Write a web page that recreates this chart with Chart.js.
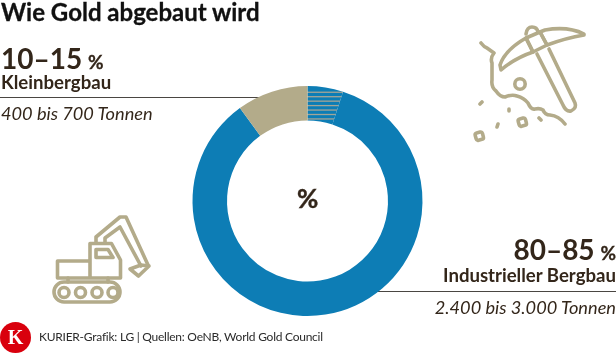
<!DOCTYPE html>
<html lang="de">
<head>
<meta charset="utf-8">
<title>Wie Gold abgebaut wird</title>
<script src="https://cdn.jsdelivr.net/npm/chart.js@4"></script>
<style>
html, body { margin: 0; padding: 0; background: #fff; }
#wrap { position: relative; width: 616px; height: 353px; overflow: hidden; font-family: Lato, sans-serif; color: #33261a; }
#wrap canvas { position: absolute; left: 0; top: 0; }
.t { position: absolute; white-space: nowrap; line-height: 30px; height: 30px; }
.r { right: 0; text-align: right; }
.b { font-weight: 700; }
.i { font-style: italic; font-weight: 400; }
.pct { font-size: 19px; margin-left: -1px; -webkit-text-stroke: 0.3px #33261a; }
.rule { position: absolute; height: 1px; background: #4a4642; }
svg { position: absolute; left: 0; top: 0; }
svg .ic { fill: none; stroke: #b3ab8a; stroke-width: 3.6; stroke-linecap: round; stroke-linejoin: round; }
</style>
</head>
<body>
<div id="wrap">
  <div class="rule" style="left:0;top:97px;width:270px"></div>
  <div class="rule" style="left:370px;top:291px;width:246px"></div>
  <svg width="616" height="353">
    <g class="ic">
      <path d="M584 34 Q568 26 545 30 L540 32 L547 45 Q566 38 584 35 Z"/>
      <path d="M526 38 Q505 50 500 65 L501 70 Q515 58 533 52 Z"/>
      <path d="M526 38 L540 32 L547 45 L533 52 Z"/>
      <path d="M526 34 Q527 27 532 27 Q537 27 538 32"/>
      <path d="M537 54 L563 105 Q566 112 571 111 Q577 108 575 103 L549 49"/>
      <path d="M481 43 Q484 47 487 48 L494 53 Q490 58 492 63 L492 80 Q491 87 496 91 Q500 97 505 97 Q512 94 517 96 Q524 98 528 103 Q531 110 535 109 Q540 108 543 110 Q545 115 550 115 Q559 116 565 124"/>
      <circle cx="520" cy="84" r="5.2"/>
      <rect x="518.5" y="118.5" width="7.5" height="7.5" rx="2" transform="rotate(-15 522 122)"/>
      <rect x="475.5" y="132.5" width="7.5" height="7.5" rx="2" transform="rotate(-15 479 136)"/>
      <path d="M480 104 L482 102 M509 109 L509 111 M497 127 L498 124 M539 118 L541 120"/>
    </g>
    <g class="ic">
      <rect x="54" y="282" width="66" height="20" rx="10"/>
      <circle cx="64" cy="292.5" r="5"/><circle cx="80.5" cy="292.5" r="5"/><circle cx="97" cy="292.5" r="5"/><circle cx="113" cy="292.5" r="5"/>
      <path d="M68 278 L68 282 M108 278 L108 282"/>
      <path d="M90 261 L57.5 261 L57.5 278 L120.5 278 L120.5 260 L111.5 243.5 L90 243.5 L90 278"/>
      <path d="M96 249.5 L108 249.5 L113 257.5 L96 257.5 Z"/>
      <path d="M96 242 L96 237 L120 217 L126 217 L148 265 M105 243 L105 238 L120 227 L141 266"/>
      <path d="M130 269 L141 265 L149 266 L138.5 276 Z"/>
    </g>
  </svg>
  <canvas id="chart" width="616" height="353"></canvas>
  <div class="t b" style="left:1px;top:-3px;font-size:24px;color:#111;-webkit-text-stroke:0.3px #111">Wie Gold abgebaut wird</div>
  <div class="t b" style="left:1px;top:43px;font-size:28px">10–15 <span class="pct">%</span></div>
  <div class="t b" style="left:1px;top:67px;font-size:18.6px">Kleinbergbau</div>
  <div class="t i" style="left:1px;top:98px;font-size:18.2px">400 bis 700 Tonnen</div>
  <div class="t b r" style="top:234px;font-size:28px">80–85 <span class="pct">%</span></div>
  <div class="t b r" style="top:260px;font-size:18.6px">Industrieller Bergbau</div>
  <div class="t i r" style="top:292px;font-size:18.2px">2.400 bis 3.000 Tonnen</div>
  <div class="t b" style="left:297px;top:183px;font-size:26px;-webkit-text-stroke:0.4px #33261a">%</div>
  <div style="position:absolute;left:0;top:322px;width:31px;height:31px;border-radius:50%;background:#d9000d;color:#fff;font:700 20px/31px 'Liberation Serif',serif;text-align:center">K</div>
  <div class="t" style="left:39px;top:322px;font-size:12px;letter-spacing:-0.25px;color:#2b2b2b">KURIER-Grafik: LG | Quellen: OeNB, World Gold Council</div>
</div>
<script>
// Anteile am Goldabbau, im Uhrzeigersinn ab 12 Uhr
const categories = ['Kleinbergbau (Schwankung)', 'Industrieller Bergbau', 'Kleinbergbau'];
const shares = [5, 85, 10];

const blue = '#0d7db5';
const tan = '#b3ab8a';

// stripes for the uncertain slice, drawn on a page sized tile so they stay inside the ring
function buildStripePattern(ctx) {
    const tile = document.createElement('canvas');
    tile.width = 616;
    tile.height = 353;
    const t = tile.getContext('2d');
    t.fillStyle = blue;
    t.fillRect(0, 0, 616, 353);
    t.fillStyle = '#a5a596';
    for (let y = 91.6; y < 121; y += 4.45) {
        t.fillRect(0, y, 616, 1.3);
    }
    return ctx.createPattern(tile, 'no-repeat');
}

const ctx = document.getElementById('chart').getContext('2d');
new Chart(ctx, {
    type: 'doughnut',
    data: {
        labels: categories,
        datasets: [{
            data: shares,
            backgroundColor: [buildStripePattern(ctx), blue, tan],
            borderWidth: 0
        }]
    },
    options: {
        responsive: false,
        animation: false,
        cutout: '70%',
        layout: { padding: { left: 192, right: 193, top: 86, bottom: 37 } },
        plugins: {
            legend: { display: false },
            tooltip: { enabled: false }
        }
    }
});
</script>
</body>
</html>
